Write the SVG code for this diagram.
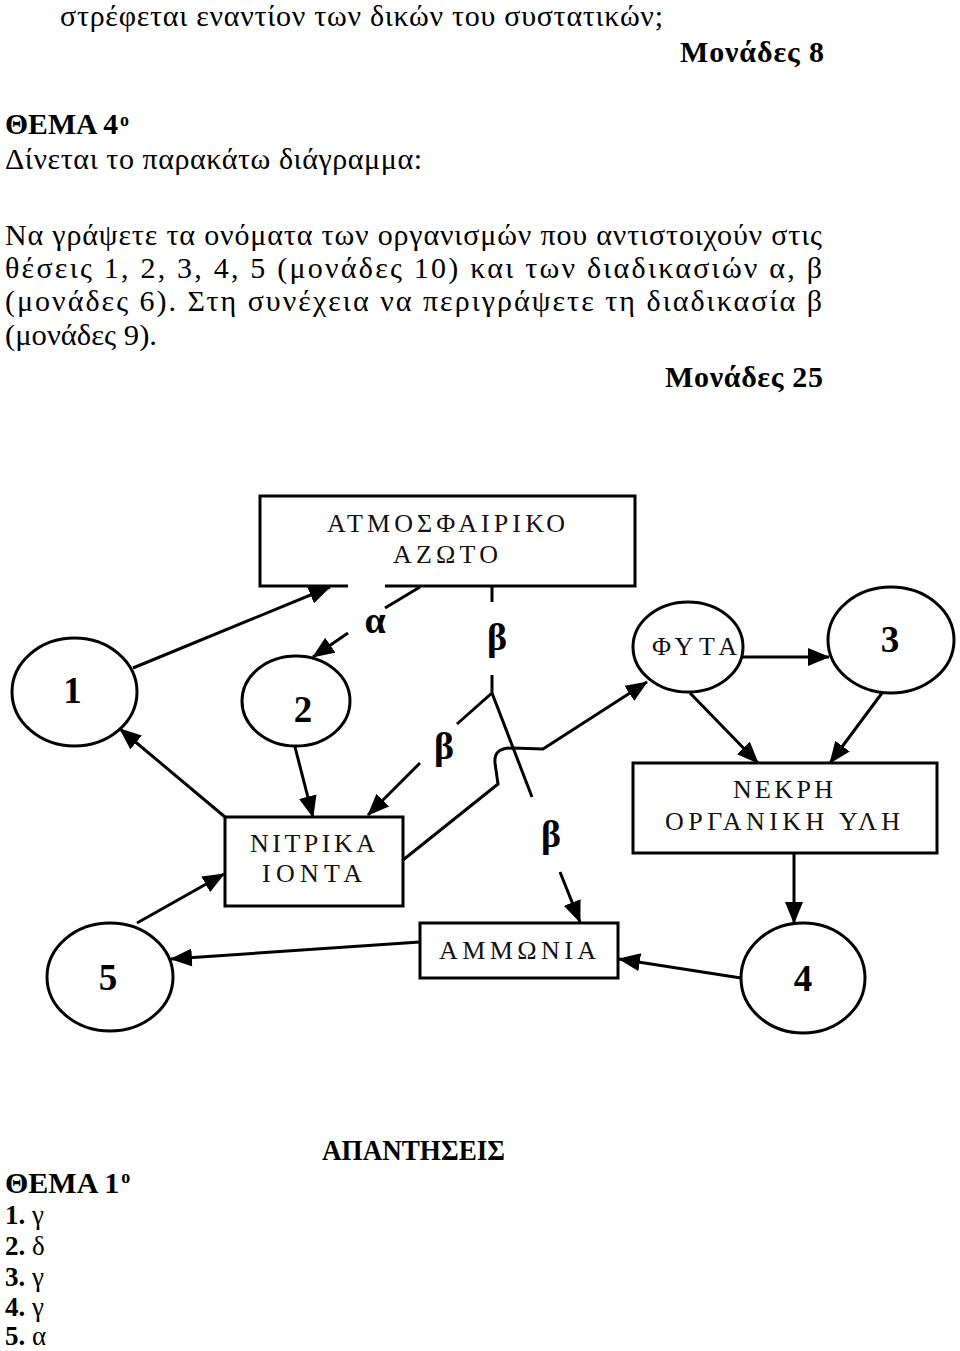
<svg xmlns="http://www.w3.org/2000/svg" width="960" height="1351" viewBox="0 0 960 1351">
<defs>
<style>
.t{font-family:"Liberation Serif","Times New Roman",serif;font-size:30px;fill:#000}
.b{font-family:"Liberation Serif","Times New Roman",serif;font-size:30px;font-weight:bold;fill:#000}
.a{font-family:"Liberation Serif","Times New Roman",serif;font-size:27px;fill:#000}
.sup{font-size:18px;font-weight:bold}
.lbl{font-family:"Liberation Serif","Times New Roman",serif;font-size:26px;fill:#111}
.num{font-family:"Liberation Serif","Times New Roman",serif;font-size:37px;font-weight:bold;fill:#000;text-anchor:middle}
.gk{font-family:"Liberation Serif","Times New Roman",serif;font-size:38px;font-weight:bold;fill:#000;text-anchor:middle}
.shape{fill:#fff;stroke:#000;stroke-width:3}
.con{fill:none;stroke:#000;stroke-width:3}
</style>
<marker id="ah" markerUnits="userSpaceOnUse" markerWidth="22" markerHeight="18" refX="21" refY="9" orient="auto">
<path d="M0,0 L22,9 L0,18 z" fill="#000"/>
</marker>
</defs>
<rect width="960" height="1351" fill="#fff"/>

<g id="header-text">
<text class="t" x="60" y="26" textLength="603" lengthAdjust="spacing">στρέφεται εναντίον των δικών του συστατικών;</text>
<text class="b" x="680" y="62" textLength="144" lengthAdjust="spacing">Μονάδες 8</text>
<text class="b" x="5" y="134"><tspan textLength="113" lengthAdjust="spacingAndGlyphs">ΘΕΜΑ 4</tspan><tspan class="sup" dx="2" dy="-8">ο</tspan></text>
<text class="t" x="5" y="169" textLength="417" lengthAdjust="spacing">Δίνεται το παρακάτω διάγραμμα:</text>
<text class="t" x="5" y="245" textLength="817" lengthAdjust="spacing">Να γράψετε τα ονόματα των οργανισμών που αντιστοιχούν στις</text>
<text class="t" x="5" y="278" textLength="817" lengthAdjust="spacing">θέσεις 1, 2, 3, 4, 5 (μονάδες 10) και των διαδικασιών α, β</text>
<text class="t" x="5" y="311" textLength="817" lengthAdjust="spacing">(μονάδες 6). Στη συνέχεια να περιγράψετε τη διαδικασία β</text>
<text class="t" x="5" y="345" textLength="152" lengthAdjust="spacingAndGlyphs">(μονάδες 9).</text>
<text class="b" x="665" y="387" textLength="158" lengthAdjust="spacing">Μονάδες 25</text>
</g>

<g id="connectors">
<path class="con" d="M133,668 L330,587" marker-end="url(#ah)"/>
<path class="con" d="M420,587 L385,608"/>
<path class="con" d="M348,633 L313,657" marker-end="url(#ah)"/>
<path class="con" d="M492,587 L492,602"/>
<path class="con" d="M492,675 L492,693 M457,724 L492,693 L532,797"/>
<path class="con" d="M420,763 L368,815" marker-end="url(#ah)"/>
<path class="con" d="M560,872 L580,922" marker-end="url(#ah)"/>
<path class="con" d="M403,860 L498,784 L495,763 C494,752 500,748 512,748 L543,749 L647,682" marker-end="url(#ah)"/>
<path class="con" d="M742,657 L829,657" marker-end="url(#ah)"/>
<path class="con" d="M690,693 L758,763" marker-end="url(#ah)"/>
<path class="con" d="M882,693 L830,763" marker-end="url(#ah)"/>
<path class="con" d="M794,853 L794,923" marker-end="url(#ah)"/>
<path class="con" d="M741,978 L619,959" marker-end="url(#ah)"/>
<path class="con" d="M420,942 L171,959" marker-end="url(#ah)"/>
<path class="con" d="M137,923 L224,874" marker-end="url(#ah)"/>
<path class="con" d="M225,817 L120,729" marker-end="url(#ah)"/>
<path class="con" d="M295,747 L313,817" marker-end="url(#ah)"/>
</g>

<g id="process-labels">
<text class="gk" x="375" y="633">α</text>
<text class="gk" x="497" y="650">β</text>
<text class="gk" x="444" y="759">β</text>
<text class="gk" x="551" y="847">β</text>
</g>

<g id="node-atmospheric-nitrogen">
<path d="M260,586 L260,496 L635,496 L635,586 Z" fill="#fff" stroke="none"/>
<path class="con" d="M348,586 L260,586 L260,496 L635,496 L635,586 L385,586"/>
<text class="lbl" x="327" y="532" textLength="238" lengthAdjust="spacing">ΑΤΜΟΣΦΑΙΡΙΚΟ</text>
<text class="lbl" x="393" y="563" textLength="105" lengthAdjust="spacing">ΑΖΩΤΟ</text>
</g>

<g id="node-1">
<ellipse class="shape" cx="74.5" cy="692" rx="62.5" ry="54"/>
<text class="num" x="72.5" y="703">1</text>
</g>

<g id="node-2">
<ellipse class="shape" cx="296" cy="701" rx="54" ry="45"/>
<text class="num" x="303" y="722">2</text>
</g>

<g id="node-plants">
<ellipse class="shape" cx="688" cy="647" rx="55" ry="45"/>
<text class="lbl" x="652" y="655" textLength="85" lengthAdjust="spacing">ΦΥΤΑ</text>
</g>

<g id="node-3">
<ellipse class="shape" cx="891" cy="640" rx="63" ry="53"/>
<text class="num" x="890" y="652">3</text>
</g>

<g id="node-nitrates">
<rect class="shape" x="225" y="817" width="178" height="89"/>
<text class="lbl" x="250" y="852" textLength="125" lengthAdjust="spacing">ΝΙΤΡΙΚΑ</text>
<text class="lbl" x="262" y="882" textLength="100" lengthAdjust="spacing">ΙΟΝΤΑ</text>
</g>

<g id="node-dead-organic-matter">
<rect class="shape" x="633" y="763" width="304" height="90"/>
<text class="lbl" x="733" y="798" textLength="100" lengthAdjust="spacing">ΝΕΚΡΗ</text>
<text class="lbl" x="665" y="830" textLength="235" lengthAdjust="spacing">ΟΡΓΑΝΙΚΗ ΥΛΗ</text>
</g>

<g id="node-ammonia">
<rect class="shape" x="420" y="923" width="198" height="55"/>
<text class="lbl" x="439" y="959" textLength="157" lengthAdjust="spacing">ΑΜΜΩΝΙΑ</text>
</g>

<g id="node-5">
<ellipse class="shape" cx="110" cy="977" rx="63" ry="54"/>
<text class="num" x="108" y="990">5</text>
</g>

<g id="node-4">
<ellipse class="shape" cx="803" cy="978" rx="62" ry="55"/>
<text class="num" x="803" y="991">4</text>
</g>

<g id="answers-text">
<text class="b" x="322" y="1160" textLength="183" lengthAdjust="spacingAndGlyphs">ΑΠΑΝΤΗΣΕΙΣ</text>
<text class="b" x="5" y="1193" font-size="26">ΘΕΜΑ 1<tspan class="sup" dx="2" dy="-10">ο</tspan></text>
<text class="a" x="5" y="1224"><tspan font-weight="bold">1.</tspan> γ</text>
<text class="a" x="5" y="1255"><tspan font-weight="bold">2.</tspan> δ</text>
<text class="a" x="5" y="1286"><tspan font-weight="bold">3.</tspan> γ</text>
<text class="a" x="5" y="1316"><tspan font-weight="bold">4.</tspan> γ</text>
<text class="a" x="5" y="1345"><tspan font-weight="bold">5.</tspan> α</text>
</g>
</svg>
